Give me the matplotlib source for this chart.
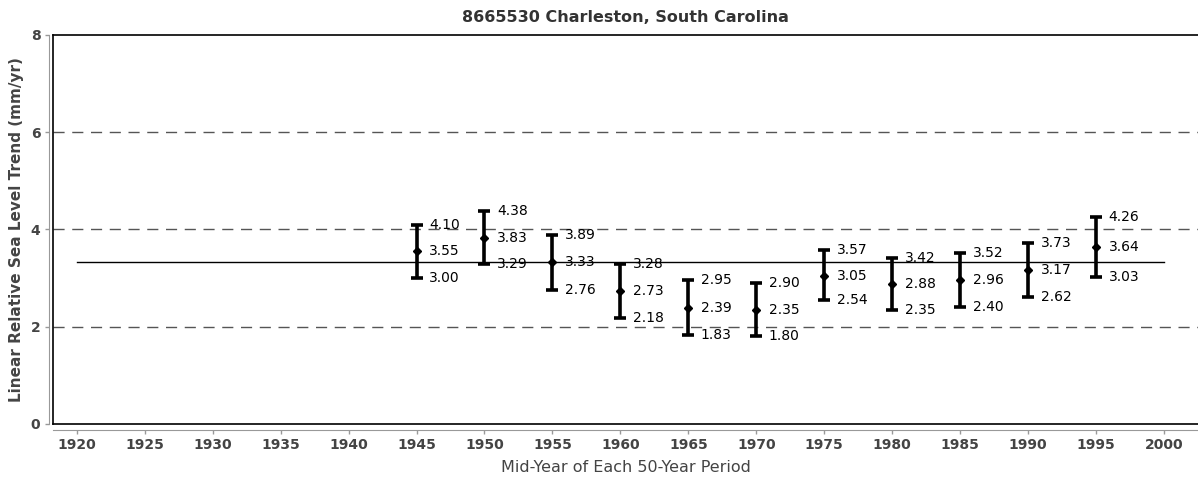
import numpy as np
import matplotlib.pyplot as plt

# Data
years = [1945, 1950, 1955, 1960, 1965, 1970, 1975, 1980, 1985, 1990, 1995]
trend = [3.55, 3.83, 3.33, 2.73, 2.39, 2.35, 3.05, 2.88, 2.96, 3.17, 3.64]
upper = [4.10, 4.38, 3.89, 3.28, 2.95, 2.90, 3.57, 3.42, 3.52, 3.73, 4.26]
lower = [3.00, 3.29, 2.76, 2.18, 1.83, 1.80, 2.54, 2.35, 2.40, 2.62, 3.03]
mean_trend = 3.33
mean_span = [1920, 2000]
xticks = list(range(1920, 2001, 5))
yticks = [0, 2, 4, 6, 8]
ref_lines = [2, 4, 6]

fig = plt.figure(figsize=(11.98, 4.84), dpi=100)
ax = fig.add_axes([0.0442, 0.124, 0.9558, 0.804])

x0, x1 = 1918.25, 2002.5
ax.set_xlim(x0, x1)
ax.set_ylim(0, 8)

# reference dashed lines
for v in ref_lines:
    ax.axhline(v, color='#555555', lw=1.0, dashes=(8, 5.5), zorder=1)

# long-term mean trend
ax.plot(mean_span, [mean_trend, mean_trend], color='black', lw=1.0, zorder=2)

# error bars
yerr = [np.array(trend) - np.array(lower), np.array(upper) - np.array(trend)]
ax.errorbar(years, trend, yerr=yerr, fmt='D', color='black', ms=4.5,
            ecolor='black', elinewidth=2.6, capsize=4.5, capthick=2.6, zorder=3)

# value labels
for x, m, hi, lo in zip(years, trend, upper, lower):
    for v in (hi, m, lo):
        ax.annotate(f"{v:.2f}", (x, v), xytext=(9, 0), textcoords='offset points',
                    va='center', ha='left', fontsize=10, color='black')

# black frame
for s in ['left', 'bottom', 'right', 'top']:
    ax.spines[s].set_visible(False)
ax.plot([x0, x1], [8, 8], color='black', lw=1.2, clip_on=False, zorder=4)
ax.plot([x0, x1], [0, 0], color='black', lw=1.2, clip_on=False, zorder=4)
ax.plot([x0, x0], [0, 8], color='black', lw=1.2, clip_on=False, zorder=4)

# offset gray axes
ax.spines['left'].set_visible(True)
ax.spines['bottom'].set_visible(True)
ax.spines['left'].set_position(('outward', 3))
ax.spines['bottom'].set_position(('outward', 4))
ax.spines['left'].set_color('#999999')
ax.spines['bottom'].set_color('#999999')

ax.set_xticks(xticks)
ax.set_yticks(yticks)
ax.tick_params(axis='both', colors='#999999', length=3, width=1, labelcolor='#444444',
               labelsize=10, pad=3)
for lab in ax.get_xticklabels() + ax.get_yticklabels():
    lab.set_fontweight('bold')

ax.set_xlabel("Mid-Year of Each 50-Year Period", fontsize=11.5, color='#444444', labelpad=6)
ax.set_ylabel("Linear Relative Sea Level Trend (mm/yr)", fontsize=11, color='#444444',
              fontweight='bold', labelpad=5)
ax.set_title("8665530 Charleston, South Carolina", fontsize=11.5, color='#333333',
             fontweight='bold', pad=9)

fig.savefig("out.png", dpi=100)
